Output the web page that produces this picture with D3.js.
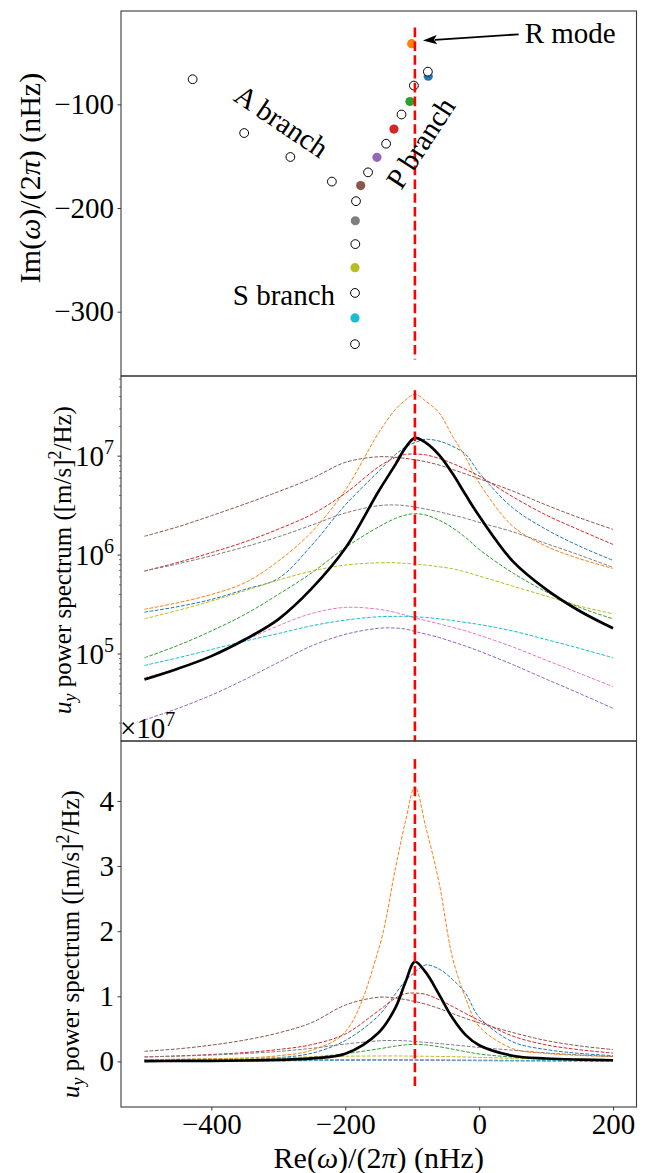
<!DOCTYPE html>
<html>
<head>
<meta charset="utf-8">
<script src="https://cdn.jsdelivr.net/npm/d3@7"></script>
<style>
body { margin: 0; background: #fff; }
svg text { font-family: "Liberation Serif", "DejaVu Serif", serif; fill: #000; }
</style>
</head>
<body>
<svg width="651" height="1173"></svg>
<script>
// ---- eigenvalues (nHz) ----
var openRe = [-428, -351, -282, -220, -184, -185, -185.5, -185.5, -166, -139, -116, -97.5, -76.6];
var openIm = [-75.8, -127.7, -150.8, -174.5, -193.4, -234.8, -281.9, -331.3, -165.6, -138, -109.8, -81.9, -68.5];
var fillRe = [-76.1, -100.9, -103.4, -127.3, -152.7, -177, -185, -185.5, -185.5];
var fillIm = [-72.9, -41.5, -97.3, -123.9, -151.1, -178.4, -212.3, -257.5, -306];
var fillColors = ["#1f77b4", "#ff7f0e", "#2ca02c", "#d62728", "#9467bd", "#8c564b", "#7f7f7f", "#bcbd22", "#17becf"];

var rModeRe = -96;

// ---- spectra ([m/s]^2/Hz) ----
var freqs = [-500, -450, -400, -350, -300, -250, -200, -150, -125, -110, -96, -80, -60, -40, -20, 0, 50, 100, 150, 200];
var specBlue   = [2.65e5, 3.01e5, 3.56e5, 4.50e5, 5.81e5, 1.26e6, 3.21e6, 7.06e6, 1.04e7, 1.24e7, 1.37e7, 1.48e7, 1.42e7, 1.26e7, 1.04e7, 6.79e6, 3.01e6, 1.82e6, 1.23e6, 8.83e5];
var specOrange = [2.83e5, 3.30e5, 4.00e5, 5.25e5, 8.69e5, 1.72e6, 4.54e6, 1.73e7, 2.97e7, 3.69e7, 4.22e7, 3.61e7, 2.75e7, 1.60e7, 9.64e6, 5.38e6, 1.96e6, 1.23e6, 9.18e5, 7.33e5];
var specGreen  = [9.16e4, 1.22e5, 1.71e5, 2.51e5, 4.00e5, 6.62e5, 1.19e6, 1.93e6, 2.35e6, 2.54e6, 2.62e6, 2.54e6, 2.26e6, 1.89e6, 1.50e6, 1.14e6, 6.62e5, 4.26e5, 2.96e5, 2.27e5];
var specRed    = [6.89e5, 8.43e5, 1.06e6, 1.36e6, 1.83e6, 2.58e6, 4.21e6, 7.82e6, 9.72e6, 1.04e7, 1.05e7, 1.03e7, 9.49e6, 8.45e6, 7.35e6, 6.30e6, 3.89e6, 2.54e6, 1.79e6, 1.28e6];
var specPurple = [2.15e4, 2.82e4, 3.84e4, 5.53e4, 8.22e4, 1.21e5, 1.58e5, 1.82e5, 1.83e5, 1.79e5, 1.69e5, 1.59e5, 1.47e5, 1.33e5, 1.20e5, 1.07e5, 7.83e4, 5.57e4, 3.99e4, 2.82e4];
var specBrown  = [1.55e6, 1.93e6, 2.50e6, 3.28e6, 4.37e6, 5.96e6, 8.65e6, 9.86e6, 9.72e6, 9.49e6, 9.20e6, 8.79e6, 8.13e6, 7.35e6, 6.59e6, 5.92e6, 4.44e6, 3.21e6, 2.38e6, 1.82e6];
var specPink   = [5.75e4, 7.14e4, 9.52e4, 1.37e5, 1.93e5, 2.57e5, 2.96e5, 2.83e5, 2.63e5, 2.47e5, 2.32e5, 2.18e5, 2.02e5, 1.86e5, 1.71e5, 1.55e5, 1.18e5, 8.67e4, 6.37e4, 4.67e4];
var specGray   = [6.89e5, 8.17e5, 9.84e5, 1.21e6, 1.53e6, 2.01e6, 2.66e6, 3.16e6, 3.21e6, 3.16e6, 3.05e6, 2.92e6, 2.74e6, 2.54e6, 2.35e6, 2.14e6, 1.72e6, 1.31e6, 1.00e6, 7.50e5];
var specOlive  = [2.27e5, 2.76e5, 3.43e5, 4.36e5, 5.58e5, 6.89e5, 7.93e5, 8.36e5, 8.36e5, 8.24e5, 8.11e5, 7.93e5, 7.62e5, 7.28e5, 6.73e5, 6.14e5, 4.86e5, 3.85e5, 3.05e5, 2.55e5];
var specCyan   = [7.66e4, 9.16e4, 1.11e5, 1.35e5, 1.61e5, 1.93e5, 2.20e5, 2.38e5, 2.40e5, 2.40e5, 2.38e5, 2.34e5, 2.27e5, 2.18e5, 2.08e5, 1.99e5, 1.71e5, 1.40e5, 1.14e5, 9.16e4];
var specTotal  = [5.53e4, 7.10e4, 9.52e4, 1.40e5, 2.24e5, 4.60e5, 1.17e6, 4.44e6, 8.26e6, 1.22e7, 1.53e7, 1.37e7, 1.03e7, 6.70e6, 4.04e6, 2.48e6, 8.69e5, 4.50e5, 2.72e5, 1.82e5];

var modeSpectra = [specBlue, specOrange, specGreen, specRed, specPurple, specBrown, specPink, specGray, specOlive, specCyan];
var modeColors = ["#1f77b4", "#ff7f0e", "#2ca02c", "#d62728", "#9467bd", "#8c564b", "#e377c2", "#7f7f7f", "#bcbd22", "#17becf"];

var xTicks = [-400, -200, 0, 200];
var imTicks = [-100, -200, -300];
var logTicks = [1e5, 1e6, 1e7];
var linTicks = [0, 1e7, 2e7, 3e7, 4e7];

// ---- layout ----
var svg = d3.select("svg");
var left = 121, right = 636.5;
var p1 = [11, 376], p2 = [376, 741], p3 = [741, 1107];
var fs = 29;

var x = d3.scaleLinear().domain([-535, 235]).range([left, right]);
var yTop = d3.scaleLinear().domain([-362, -10]).range([p1[1], p1[0]]);
var yMid = d3.scaleLog().domain([1.32e4, 6.46e7]).range([p2[1], p2[0]]);
var yBot = d3.scaleLinear().domain([-0.70e7, 4.92e7]).range([p3[1], p3[0]]);

var defs = svg.append("defs");
[p1, p2, p3].forEach(function(p, i) {
	defs.append("clipPath").attr("id", "clip" + i)
		.append("rect").attr("x", left).attr("y", p[0]).attr("width", right - left).attr("height", p[1] - p[0]);
});

function frame(p) {
	svg.append("rect")
		.attr("x", left).attr("y", p[0])
		.attr("width", right - left).attr("height", p[1] - p[0])
		.attr("fill", "none").attr("stroke", "#3a3a3a").attr("stroke-width", 1.1);
}

function styleAxis(g) {
	g.select(".domain").remove();
	g.selectAll("line").attr("stroke", "#222").attr("stroke-width", 0.9);
	g.selectAll("text").attr("font-family", "Liberation Serif, serif").attr("font-size", fs).attr("fill", "#000");
}

// ================= top panel: eigenvalues =================
var g1 = svg.append("g").attr("clip-path", "url(#clip0)");

g1.selectAll(".filled").data(fillRe).enter().append("circle")
	.attr("cx", function(d) { return x(d); })
	.attr("cy", function(d, i) { return yTop(fillIm[i]); })
	.attr("r", 4.6)
	.attr("fill", function(d, i) { return fillColors[i]; });

g1.selectAll(".open").data(openRe).enter().append("circle")
	.attr("cx", function(d) { return x(d); })
	.attr("cy", function(d, i) { return yTop(openIm[i]); })
	.attr("r", 4.4)
	.attr("fill", "#fff").attr("stroke", "#000").attr("stroke-width", 1);

g1.append("line")
	.attr("x1", x(rModeRe)).attr("x2", x(rModeRe))
	.attr("y1", yTop(-26)).attr("y2", yTop(-346))
	.attr("stroke", "red").attr("stroke-width", 2.6).attr("stroke-dasharray", "9.6,4.2");

svg.append("g").attr("transform", "translate(" + left + ",0)")
	.call(d3.axisLeft(yTop).tickValues(imTicks).tickSize(3.5).tickPadding(3.5))
	.call(styleAxis);

// annotations
svg.append("text").attr("x", x(-295)).attr("y", yTop(-116))
	.attr("text-anchor", "middle").attr("dy", "0.35em").attr("font-size", fs)
	.attr("transform", "rotate(34," + x(-295) + "," + yTop(-116) + ")")
	.text("A branch");
svg.append("text").attr("x", x(-88)).attr("y", yTop(-137))
	.attr("text-anchor", "middle").attr("dy", "0.35em").attr("font-size", fs)
	.attr("transform", "rotate(-57," + x(-88) + "," + yTop(-137) + ")")
	.text("P branch");
svg.append("text").attr("x", x(-368)).attr("y", yTop(-294))
	.attr("font-size", fs).text("S branch");
svg.append("text").attr("x", x(68)).attr("y", yTop(-41))
	.attr("font-size", fs).text("R mode");

var tipX = x(-84), tipY = yTop(-38.5), tailX = x(59), tailY = yTop(-32.5);
var ang = Math.atan2(tipY - tailY, tipX - tailX);
var hl = 14, hw = 4.6;
svg.append("line")
	.attr("x1", tailX).attr("y1", tailY)
	.attr("x2", tipX - Math.cos(ang) * (hl - 2)).attr("y2", tipY - Math.sin(ang) * (hl - 2))
	.attr("stroke", "#000").attr("stroke-width", 1.8);
svg.append("path")
	.attr("d", "M" + tipX + "," + tipY +
		"L" + (tipX - Math.cos(ang) * hl - Math.sin(ang) * hw) + "," + (tipY - Math.sin(ang) * hl + Math.cos(ang) * hw) +
		"L" + (tipX - Math.cos(ang) * hl * 0.8) + "," + (tipY - Math.sin(ang) * hl * 0.8) +
		"L" + (tipX - Math.cos(ang) * hl + Math.sin(ang) * hw) + "," + (tipY - Math.sin(ang) * hl - Math.cos(ang) * hw) + "Z")
	.attr("fill", "#000");

// ================= spectra panels =================
function drawSpectra(y, clipId, redTop, redBottom) {
	var line = d3.line()
		.x(function(d, i) { return x(freqs[i]); })
		.y(function(d) { return y(d); })
		.curve(d3.curveCatmullRom.alpha(0.5));
	var g = svg.append("g").attr("clip-path", "url(#" + clipId + ")");
	modeSpectra.forEach(function(s, k) {
		g.append("path")
			.attr("d", line(s))
			.attr("fill", "none")
			.attr("stroke", modeColors[k])
			.attr("stroke-width", 1)
			.attr("stroke-dasharray", "3.7,1.6");
	});
	g.append("path")
		.attr("d", line(specTotal))
		.attr("fill", "none").attr("stroke", "#000").attr("stroke-width", 2.7);
	svg.append("line")
		.attr("x1", x(rModeRe)).attr("x2", x(rModeRe))
		.attr("y1", redTop).attr("y2", redBottom)
		.attr("stroke", "red").attr("stroke-width", 2.6).attr("stroke-dasharray", "9.6,4.2");
}

var peak = d3.max(specOrange);
drawSpectra(yMid, "clip1", yMid(1.1 * peak), p2[1]);
drawSpectra(yBot, "clip2", yBot(1.1 * peak), yBot(-0.1 * peak));

// log axis ticks
var minor = [];
[1e4, 1e5, 1e6, 1e7].forEach(function(dec) {
	for (var m = 2; m <= 9; m++) {
		var v = m * dec;
		if (v > yMid.domain()[0] && v < yMid.domain()[1]) minor.push(v);
	}
});
var gm = svg.append("g");
gm.selectAll(".minor").data(minor).enter().append("line")
	.attr("x1", left - 2).attr("x2", left)
	.attr("y1", function(d) { return yMid(d); }).attr("y2", function(d) { return yMid(d); })
	.attr("stroke", "#222").attr("stroke-width", 0.6);
gm.selectAll(".major").data(logTicks).enter().append("line")
	.attr("x1", left - 3.5).attr("x2", left)
	.attr("y1", function(d) { return yMid(d); }).attr("y2", function(d) { return yMid(d); })
	.attr("stroke", "#222").attr("stroke-width", 0.9);
logTicks.forEach(function(v) {
	var t = gm.append("text").attr("x", left - 7).attr("y", yMid(v) + 10)
		.attr("text-anchor", "end").attr("font-size", fs);
	t.append("tspan").text("10");
	t.append("tspan").attr("dy", -12).attr("font-size", 20).text(Math.round(Math.log10(v)));
});

// linear axis
svg.append("g").attr("transform", "translate(" + left + ",0)")
	.call(d3.axisLeft(yBot).tickValues(linTicks).tickSize(3.5).tickPadding(3.5)
		.tickFormat(function(d) { return d / 1e7; }))
	.call(styleAxis);

var off = svg.append("text").attr("x", left - 1).attr("y", p3[0] - 3).attr("font-size", fs);
off.append("tspan").text("\u00d710");
off.append("tspan").attr("dy", -12).attr("font-size", 20).text("7");

// x axis
svg.append("g").attr("transform", "translate(0," + p3[1] + ")")
	.call(d3.axisBottom(x).tickValues(xTicks).tickSize(3.5).tickPadding(2.5))
	.call(styleAxis);

frame(p1); frame(p2); frame(p3);

// ---- axis titles ----
var xl = svg.append("text").attr("x", (left + right) / 2).attr("y", 1168)
	.attr("text-anchor", "middle").attr("font-size", 30);
xl.append("tspan").text("Re(");
xl.append("tspan").attr("font-style", "italic").text("\u03c9");
xl.append("tspan").text(")/(2");
xl.append("tspan").attr("font-style", "italic").text("\u03c0");
xl.append("tspan").text(") (nHz)");

var yl = svg.append("text").attr("font-size", 30).attr("text-anchor", "middle")
	.attr("transform", "translate(40,178) rotate(-90)");
yl.append("tspan").text("Im(");
yl.append("tspan").attr("font-style", "italic").text("\u03c9");
yl.append("tspan").text(")/(2");
yl.append("tspan").attr("font-style", "italic").text("\u03c0");
yl.append("tspan").text(") (nHz)");

function powerLabel(cy, cx) {
	var t = svg.append("text").attr("font-size", 25).attr("text-anchor", "middle")
		.attr("transform", "translate(" + cx + "," + cy + ") rotate(-90)");
	t.append("tspan").attr("font-style", "italic").text("u");
	t.append("tspan").attr("font-style", "italic").attr("font-size", 18).attr("dy", 5).text("y");
	t.append("tspan").attr("dy", -5).text(" power spectrum ([m/s]");
	t.append("tspan").attr("font-size", 18).attr("dy", -10).text("2");
	t.append("tspan").attr("dy", 10).text("/Hz)");
}
powerLabel(560, 71);
powerLabel(944, 79);
</script>
</body>
</html>
